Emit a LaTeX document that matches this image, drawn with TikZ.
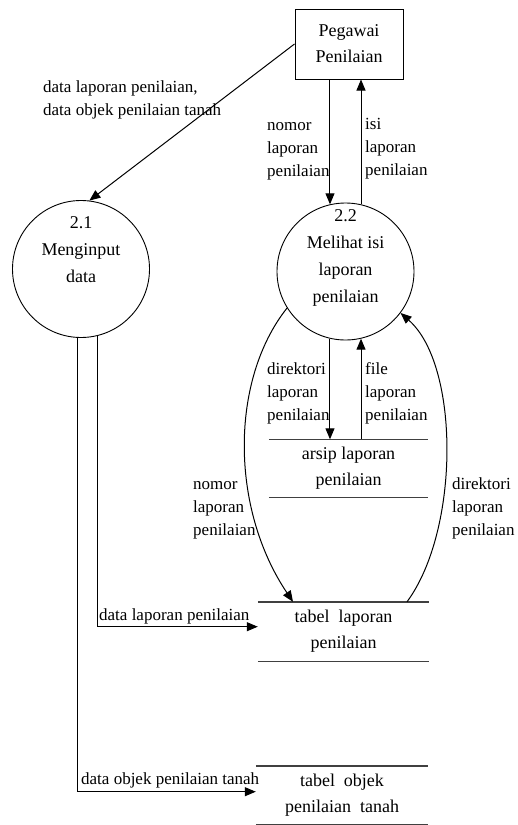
\documentclass[tikz,border=0pt]{standalone}
\usepackage{fontspec}
\setmainfont{Liberation Serif}
\usetikzlibrary{arrows.meta}

\tikzstyle{entity} = [rectangle, draw, line width=1pt, minimum width=108pt, minimum height=70pt, align=center, font=\fontsize{18}{26}\selectfont]
\tikzstyle{process} = [circle, draw, line width=0.9pt, minimum size=137pt, inner sep=0pt]
\tikzstyle{proctext} = [align=center, anchor=north, inner sep=0pt, font=\fontsize{18}{27}\selectfont]
\tikzstyle{store} = [rectangle, minimum height=58pt, align=center, font=\fontsize{18}{26}\selectfont]
\tikzstyle{storeline} = [draw, line width=1.4pt, color=black!75]
\tikzstyle{line} = [draw, line width=1pt, -{Triangle[length=11pt, width=9pt]}]
\tikzstyle{flow} = [align=left, anchor=north west, inner sep=0pt, font=\fontsize{17}{23}\selectfont]

\begin{document}
\begin{tikzpicture}[x=1pt, y=-1pt]
    \useasboundingbox (0,0) rectangle (518,825);
    % Place nodes

    \node [entity] (pegawai) at (349,44) {Pegawai\\Penilaian};

    \node [process] (input) at (81,269) {};
    \node [proctext] (inputtxt) at (81,216.8) {2.1\\Menginput\\data};

    \node [process] (lihat) at (345.5,271.5) {};
    \node [proctext] (lihattxt) at (345.5,209.8) {2.2\\Melihat isi\\laporan\\penilaian};

    \node [store, minimum width=159pt] (arsip) at (348.5,468.5) {arsip laporan\\penilaian};
    \node [store, minimum width=171pt, minimum height=59pt] (tabellap) at (343.5,631.5) {tabel\ \ laporan\\penilaian};
    \node [store, minimum width=172pt] (tabelobj) at (342,795) {tabel\ \ objek\\penilaian\ \ tanah};

    \path [storeline] (arsip.north west) -- (arsip.north east);
    \path [storeline] (arsip.south west) -- (arsip.south east);
    \path [storeline] (tabellap.north west) -- (tabellap.north east);
    \path [storeline] (tabellap.south west) -- (tabellap.south east);
    \path [storeline] (tabelobj.north west) -- (tabelobj.north east);
    \path [storeline] (tabelobj.south west) -- (tabelobj.south east);

    % Flow labels
    \node [flow] (lbldata) at (43,80.4) {data laporan penilaian,\\data objek penilaian tanah};
    \node [flow] (lblnomor) at (267,122.4) {nomor\\laporan\\penilaian};
    \node [flow] (lblisi) at (365,118.4) {isi\\laporan\\penilaian};
    \node [flow] (lbldir) at (267,362.4) {direktori\\laporan\\penilaian};
    \node [flow] (lblfile) at (365,362.4) {file\\laporan\\penilaian};
    \node [flow] (lblnomorb) at (193,481.4) {nomor\\laporan\\penilaian};
    \node [flow] (lbldirb) at (452,477.4) {direktori\\laporan\\penilaian};
    \node [flow] (lbllap) at (99,608.4) {data laporan penilaian};
    \node [flow] (lblobj) at (81,772.4) {data objek penilaian tanah};

    % Draw edges
    \path [line] (pegawai.west) -- (input.83);
    \path [line] (pegawai.south -| lihat.103) -- (lihat.103);
    \path [line] (lihat.77) -- (pegawai.south -| lihat.77);
    \path [line] (lihat.257) -- (lihat.257 |- arsip.north);
    \path [line] (arsip.north -| lihat.283) -- (lihat.283);
    \path [line] (lihat.212) .. controls (230,380) and (230,508) .. ([xshift=-50.5pt]tabellap.north);
    \path [line] ([xshift=63.5pt]tabellap.north) .. controls (460,530) and (460,365) .. (lihat.323);
    \path [line] (input.284) |- ([yshift=4.8pt]tabellap.west);
    \path [line] (input.267) |- ([yshift=3.3pt]tabelobj.west);

\end{tikzpicture}
\end{document}
